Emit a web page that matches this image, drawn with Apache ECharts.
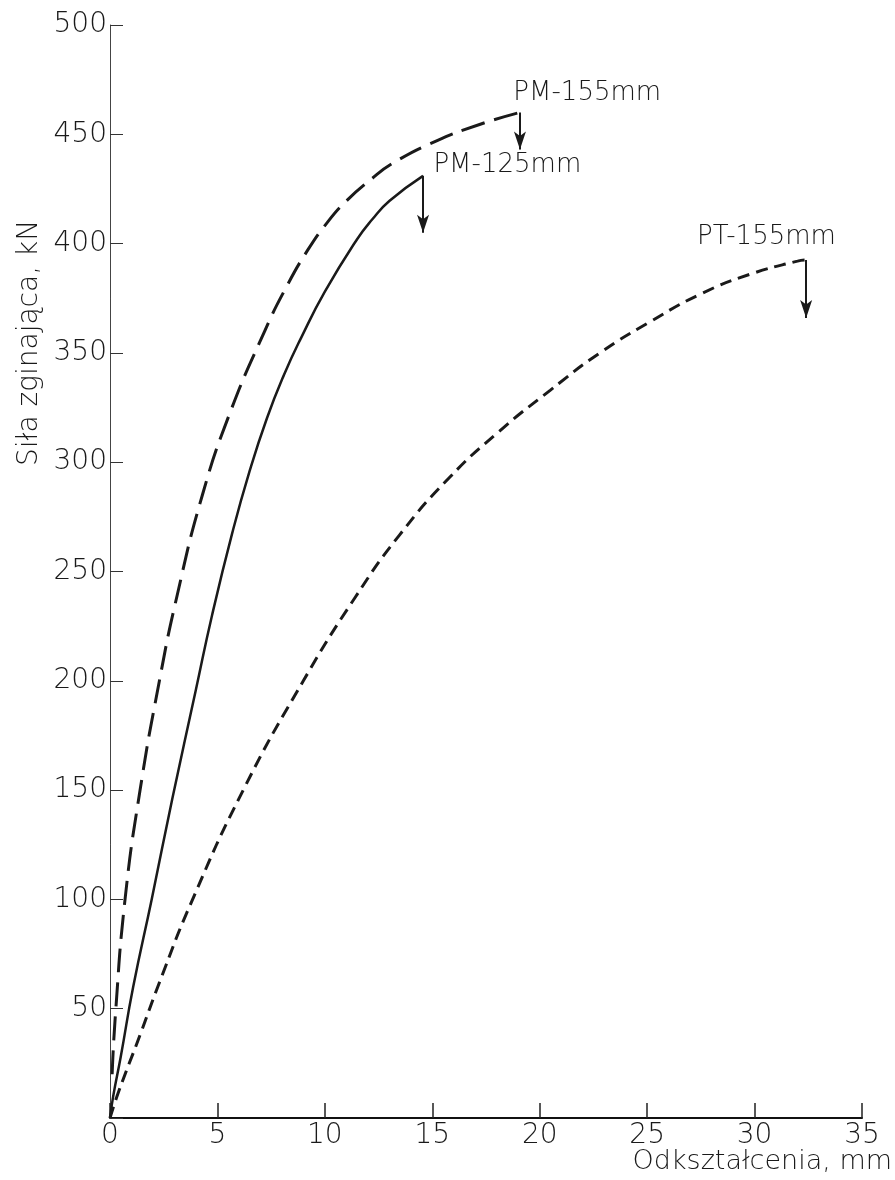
<!DOCTYPE html>
<html>
<head>
<meta charset="utf-8">
<title>Siła zginająca</title>
<script src="https://cdn.jsdelivr.net/npm/echarts@6/dist/echarts.min.js"></script>
<style>
  html, body { margin: 0; padding: 0; background: #fff; }
  #chart { width: 895px; height: 1180px; }
</style>
</head>
<body>
<div id="chart"></div>
<script>
// odkształcenie [mm], siła [kN]
var pm155X = [0.1, 0.25, 0.7, 1.4, 2.3, 3.1, 4.3, 5.6, 7.2, 8.2, 9.2, 10.1, 11.0, 12.1, 13.2, 15.2, 17.2, 19.08];
var pm155Y = [20, 47, 100, 150, 200, 238, 285, 323, 360, 380, 397, 409.5, 419.5, 429, 437, 447, 454.5, 460];

var pm125X = [0, 0.15, 0.5, 1.08, 1.94, 2.9, 4.0, 4.75, 5.7, 6.5, 7.3, 8.1, 8.9, 10.0, 11.5, 12.2, 13.0, 14.57];
var pm125Y = [0, 10, 28, 60, 100, 146, 196, 230, 268, 296, 320, 340, 357, 378, 402, 411, 419.5, 431];

var pt155X = [0, 0.4, 1.4, 2.3, 3.8, 6.2, 9.0, 11.4, 13.5, 15.8, 18.1, 20.5, 22.8, 25.1, 27.5, 29.8, 32.0, 32.4];
var pt155Y = [0, 12, 38, 62, 99, 150, 200, 238, 267, 293, 314, 333, 350, 364, 377, 386, 392, 392.5];

// strzałki zniszczenia: x, góra, grot
var arrowX = [19.08, 14.57, 32.4];
var arrowTop = [460, 431, 392.5];
var arrowTip = [443, 405, 366];

// opisy krzywych
var labelNames = ['PM-155mm', 'PM-125mm', 'PT-155mm'];
var labelX = [18.75, 15.03, 27.3];
var labelY = [469, 436, 403];

var xTicks = [0, 35, 5];
var yTicks = [0, 500, 50];

function pairs(xs, ys) {
    return xs.map(function (x, i) { return [x, ys[i]]; });
}

var FONT = 'DejaVu Sans';
var INK = '#1a1a1a';

function curve(name, xs, ys, dash, width, k) {
    return {
        name: name,
        type: 'line',
        data: pairs(xs, ys),
        smooth: 0.5,
        showSymbol: false,
        silent: true,
        lineStyle: { color: INK, width: width, type: dash, cap: 'butt' },
        markLine: {
            silent: true,
            symbol: ['none', 'arrow'],
            symbolSize: [9, 18],
            label: { show: false },
            lineStyle: { color: INK, width: 2, type: 'solid' },
            data: [[{ coord: [arrowX[k], arrowTop[k]] }, { coord: [arrowX[k], arrowTip[k]] }]]
        },
        markPoint: {
            silent: true,
            symbol: 'circle',
            symbolSize: 1,
            itemStyle: { color: 'rgba(0,0,0,0)' },
            label: {
                show: true,
                position: 'right',
                distance: 0,
                color: INK,
                fontFamily: FONT,
                fontWeight: 200,
                fontSize: 26,
                formatter: labelNames[k]
            },
            data: [{ coord: [labelX[k], labelY[k]] }]
        }
    };
}

var myChart = echarts.init(document.getElementById('chart'));
var option = {
    animation: false,
    backgroundColor: '#fff',
    grid: { left: 110, right: 33, top: 25, bottom: 62 },
    xAxis: {
        type: 'value',
        min: xTicks[0],
        max: xTicks[1],
        interval: xTicks[2],
        axisLine: { show: true, lineStyle: { color: '#111', width: 2 } },
        axisTick: { show: true, inside: true, length: 15, lineStyle: { color: '#222', width: 1.5 } },
        axisLabel: { margin: 4, color: INK, fontFamily: FONT, fontWeight: 200, fontSize: 28 },
        splitLine: { show: false }
    },
    yAxis: {
        type: 'value',
        min: yTicks[0],
        max: yTicks[1],
        interval: yTicks[2],
        axisLine: { show: true, lineStyle: { color: '#444', width: 1 } },
        axisTick: { show: true, inside: true, length: 13, lineStyle: { color: '#333', width: 1 } },
        axisLabel: {
            margin: 3, color: INK, fontFamily: FONT, fontWeight: 200, fontSize: 28,
            formatter: function (v) { return v === 0 ? '' : v; }
        },
        splitLine: { show: false }
    },
    graphic: [
        {
            type: 'text',
            x: 30, y: 343,
            rotation: Math.PI / 2,
            style: {
                text: 'Siła zginająca, kN',
                fill: INK,
                font: '200 28px "DejaVu Sans"',
                align: 'center',
                verticalAlign: 'middle'
            }
        },
        {
            type: 'text',
            x: 892, y: 1162,
            style: {
                text: 'Odkształcenia, mm',
                fill: INK,
                font: '200 27px "DejaVu Sans"',
                align: 'right',
                verticalAlign: 'middle'
            }
        }
    ],
    series: [
        curve('PM-155mm', pm155X, pm155Y, [24, 10], 3, 0),
        curve('PM-125mm', pm125X, pm125Y, 'solid', 2.5, 1),
        curve('PT-155mm', pt155X, pt155Y, [12, 7], 3, 2)
    ]
};
myChart.setOption(option);
</script>
</body>
</html>
